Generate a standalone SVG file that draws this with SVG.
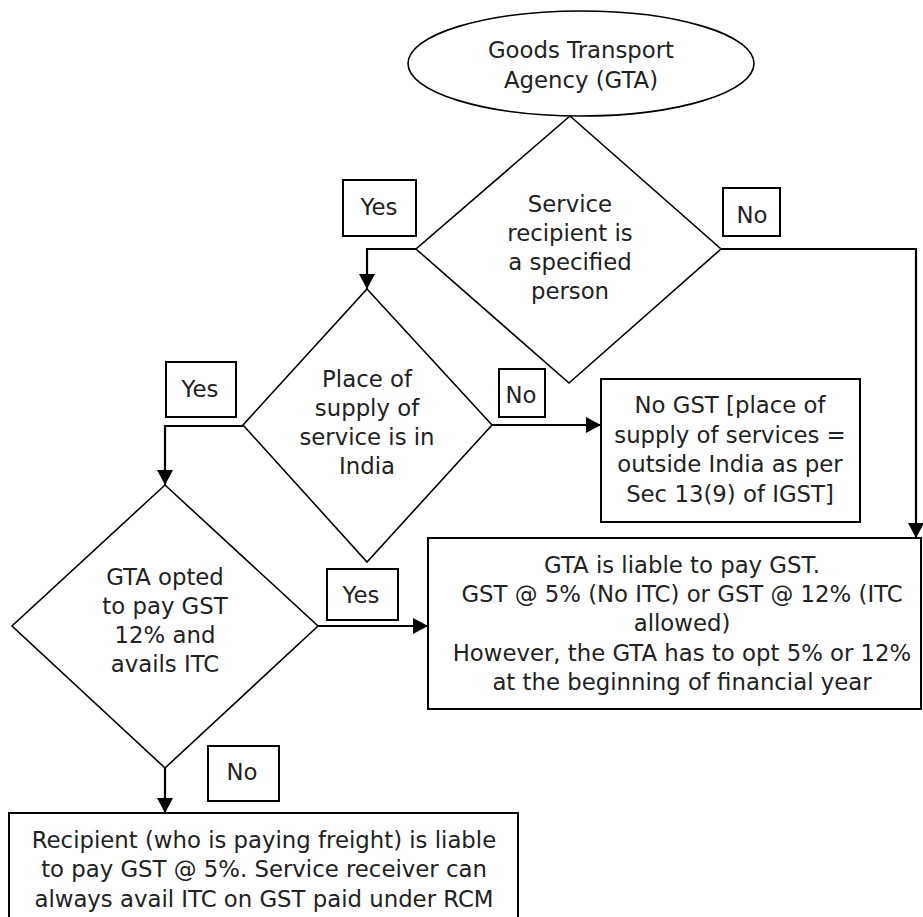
<svg xmlns="http://www.w3.org/2000/svg" width="923" height="917" viewBox="0 0 923 917">
<defs>
<marker id="ah" markerUnits="userSpaceOnUse" markerWidth="16" markerHeight="16" refX="15" refY="8" orient="auto">
<path d="M0,0 L15,8 L0,16 Z" fill="#000"/>
</marker>
<style>
.sh{fill:#fff;stroke:#000;stroke-width:1.6}
.lb{fill:#fff;stroke:#000;stroke-width:2}
.cn{fill:none;stroke:#000;stroke-width:2.2;marker-end:url(#ah)}
text{font-family:"DejaVu Sans","Liberation Sans",sans-serif;font-size:22.8px;fill:#222;text-anchor:middle}
</style>
</defs>
<rect width="923" height="917" fill="#fff"/>
<g id="connectors">
<path class="cn" d="M416,249 H367 V289"/>
<path class="cn" d="M721,249 H916 V538"/>
<path class="cn" d="M492,425 H601"/>
<path class="cn" d="M243,426 H165 V485"/>
<path class="cn" d="M318,626 H428"/>
<path class="cn" d="M165,768 V813"/>
</g>
<g id="start">
<ellipse class="sh" cx="581" cy="63.5" rx="173" ry="52.5"/>
<text x="581" y="58">Goods Transport</text>
<text x="581" y="88">Agency (GTA)</text>
</g>
<g id="d1">
<polygon class="sh" points="570,116 721,249 569,383 416,249"/>
<text x="570" y="212">Service</text>
<text x="570" y="241">recipient is</text>
<text x="570" y="270">a specified</text>
<text x="570" y="299">person</text>
</g>
<g id="d2">
<polygon class="sh" points="367,289 492,425 367,562 243,425"/>
<text x="367" y="387">Place of</text>
<text x="367" y="416">supply of</text>
<text x="367" y="445">service is in</text>
<text x="367" y="474">India</text>
</g>
<g id="d3">
<polygon class="sh" points="165,485 318,626 165,768 12,626"/>
<text x="165" y="585">GTA opted</text>
<text x="165" y="614">to pay GST</text>
<text x="165" y="643">12% and</text>
<text x="165" y="672">avails ITC</text>
</g>
<g id="nogst">
<rect class="lb" x="601" y="379" width="259" height="143"/>
<text x="730" y="413">No GST [place of</text>
<text x="730" y="443">supply of services =</text>
<text x="730" y="472">outside India as per</text>
<text x="730" y="502">Sec 13(9) of IGST]</text>
</g>
<g id="gta">
<rect class="lb" x="428" y="538" width="493" height="171"/>
<text x="682" y="573">GTA is liable to pay GST.</text>
<text x="682" y="602">GST @ 5% (No ITC) or GST @ 12% (ITC</text>
<text x="682" y="631">allowed)</text>
<text x="682" y="661">However, the GTA has to opt 5% or 12%</text>
<text x="682" y="690">at the beginning of financial year</text>
</g>
<g id="rcm">
<rect class="lb" x="9" y="813" width="509" height="112"/>
<text x="264" y="848">Recipient (who is paying freight) is liable</text>
<text x="264" y="877">to pay GST @ 5%. Service receiver can</text>
<text x="264" y="907">always avail ITC on GST paid under RCM</text>
</g>
<g id="yes1"><rect class="lb" x="343" y="180" width="73" height="56"/><text x="379" y="215">Yes</text></g>
<g id="no1"><rect class="lb" x="723" y="188" width="57" height="48"/><text x="752" y="223">No</text></g>
<g id="yes2"><rect class="lb" x="166" y="362" width="70" height="55"/><text x="200" y="397">Yes</text></g>
<g id="no2"><rect class="lb" x="499" y="369" width="46" height="48"/><text x="521" y="403">No</text></g>
<g id="yes3"><rect class="lb" x="327" y="569" width="71" height="51"/><text x="361" y="603">Yes</text></g>
<g id="no3"><rect class="lb" x="208" y="746" width="71" height="55"/><text x="242" y="780">No</text></g>
</svg>
